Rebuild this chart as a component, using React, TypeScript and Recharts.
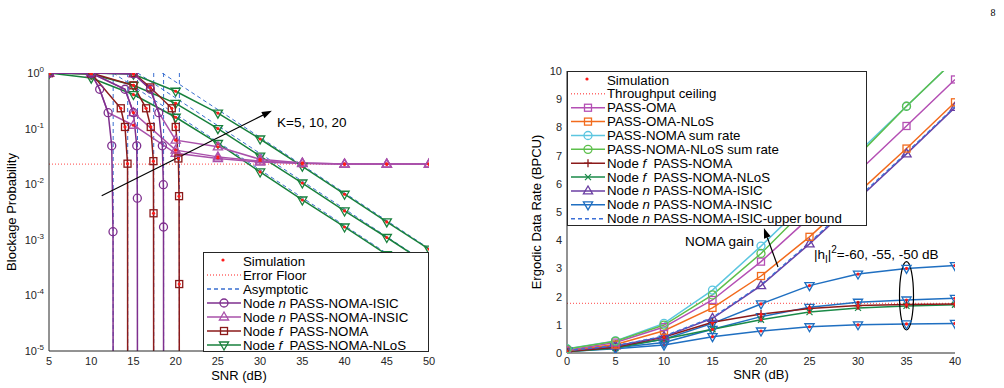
import React from 'react';
import { LineChart, Line, XAxis, YAxis, ReferenceLine, ReferenceDot, Legend } from 'recharts';

const FONT = '"Liberation Sans", Arial, Helvetica, sans-serif';
const INK = '#262626';

// ---------- left panel: blockage probability vs SNR ----------
const snrTicksL = [5, 10, 15, 20, 25, 30, 35, 40, 45, 50];
const probTicks = [1e-5, 1e-4, 1e-3, 1e-2, 1e-1, 1];
const probMinorTicks = probTicks.slice(0, -1).flatMap((d) => [2, 3, 4, 5, 6, 7, 8, 9].map((m) => m * d));

// [SNR (dB), probability, 0 = no marker]
type Pt = [number, number, number?];

const isicK5: Pt[] = [[5, 1], [10, 0.98], [11, 0.51], [12, 0.193], [12.43, 0.049], [12.58, 0.0014], [12.6, 1e-7]];
const isicK10: Pt[] = [[5, 1], [10, 1], [14, 0.51], [15, 0.193], [15.39, 0.049], [15.46, 0.0056], [15.48, 1e-7]];
const isicK20: Pt[] = [[5, 1], [10, 1], [15, 0.97], [17, 0.51], [18, 0.193], [18.42, 0.049], [18.54, 0.0098], [18.56, 0.0017], [18.57, 1e-7]];

const insicK5: Pt[] = [[5, 1], [10, 0.98], [11, 0.51, 0], [12, 0.193, 0], [15, 0.115], [20, 0.036], [25, 0.029], [30, 0.025], [35, 0.0235], [40, 0.023], [45, 0.023], [50, 0.023]];
const insicK10: Pt[] = [[5, 1], [10, 1], [14, 0.51, 0], [15, 0.193], [20, 0.041], [25, 0.031], [30, 0.026], [35, 0.024], [40, 0.023], [45, 0.023], [50, 0.023]];
const insicK20: Pt[] = [[5, 1], [10, 1], [15, 0.97], [17, 0.51, 0], [18, 0.193, 0], [20, 0.062], [25, 0.047], [30, 0.028], [35, 0.024], [40, 0.023], [45, 0.023], [50, 0.023]];

const nomaK5: Pt[] = [[5, 1], [10, 0.98], [13.5, 0.232], [14, 0.107], [14.3, 0.0234], [14.32, 1e-7]];
const nomaK10: Pt[] = [[5, 1], [10, 1], [15, 0.6], [16.5, 0.232], [17.05, 0.107], [17.36, 0.026], [17.38, 0.003], [17.4, 1e-7]];
const nomaK20: Pt[] = [[5, 1], [10, 1], [15, 1], [17, 0.55], [19.54, 0.232], [20.01, 0.107], [20.32, 0.029], [20.4, 0.0061], [20.42, 1.6e-4], [20.44, 1e-7]];

const nlosK5: Pt[] = [[5, 1], [10, 0.81], [15, 0.41], [20, 0.16], [25, 0.054], [30, 0.0166], [35, 0.0052], [40, 0.0017], [45, 5.4e-4], [50, 1.74e-4]];
const nlosK10: Pt[] = [[5, 1], [10, 0.95], [15, 0.6], [20, 0.285], [25, 0.1], [30, 0.032], [35, 0.0105], [40, 0.0033], [45, 0.0011], [50, 3.5e-4]];
const nlosK20: Pt[] = [[5, 1], [10, 1], [15, 0.95], [20, 0.47], [25, 0.19], [30, 0.065], [35, 0.021], [40, 0.0066], [45, 0.0021], [50, 6.8e-4]];

// high-SNR asymptotes (sloped) and the SNR where each SIC curve collapses
const asymK5: Pt[] = [[12.6, 1], [50, 1.8e-4]];
const asymK10: Pt[] = [[15.5, 1], [50, 3.6e-4]];
const asymK20: Pt[] = [[18.4, 1], [50, 7e-4]];
const dropSnr = [12.6, 14.32, 15.48, 17.4, 18.57, 20.44];

const errorFloor = 0.023;

// ---------- right panel: ergodic data rate vs SNR ----------
const snrR = [0, 5, 10, 15, 20, 25, 30, 35, 40];
const rateTicks = [0, 1, 2, 3, 4, 5, 6, 7, 8, 9, 10];
const omaRate = [0.1, 0.37, 0.92, 1.88, 3.24, 4.8, 6.42, 8.05, 9.7];
const omaNlosRate = [0.09, 0.3, 0.79, 1.6, 2.73, 4.12, 5.68, 7.25, 8.89];
const nomaSumRate = [0.15, 0.43, 1.05, 2.23, 3.79, 5.45, 7.1, 8.75, 10.4];
const nlosSumRate = [0.14, 0.42, 0.99, 2.06, 3.53, 5.25, 7.0, 8.75, 10.4];
const nodeFRate = [0.05, 0.2, 0.57, 1.09, 1.38, 1.58, 1.68, 1.72, 1.74];
const nodeFNlosRate = [0.04, 0.18, 0.5, 0.84, 1.18, 1.45, 1.6, 1.67, 1.71];
const isicRate = [0.08, 0.25, 0.58, 1.23, 2.39, 3.87, 5.45, 7.06, 8.71];
const isicUpperRate = [0.09, 0.26, 0.6, 1.26, 2.42, 3.92, 5.5, 7.1, 8.74];
const insic60Rate = [0.08, 0.22, 0.49, 1.05, 1.74, 2.39, 2.8, 3.0, 3.1];
const insic55Rate = [0.06, 0.19, 0.37, 0.84, 1.29, 1.62, 1.8, 1.88, 1.94];
const insic50Rate = [0.05, 0.15, 0.28, 0.58, 0.78, 0.93, 1.0, 1.03, 1.05];
const throughputCeiling = 1.76;

const rateRows = snrR.map((snr, i) => ({
  snr,
  oma: omaRate[i],
  omaNlos: omaNlosRate[i],
  nomaSum: nomaSumRate[i],
  nlosSum: nlosSumRate[i],
  nodeF: nodeFRate[i],
  nodeFNlos: nodeFNlosRate[i],
  isic: isicRate[i],
  isicUpper: isicUpperRate[i],
  insic60: insic60Rate[i],
  insic55: insic55Rate[i],
  insic50: insic50Rate[i],
}));

const C = {
  isic: '#7e2f8e',
  insic: '#a950aa',
  nomaF: '#8b1a1a',
  nlos: '#18803c',
  asym: '#3a6fd0',
  floor: '#ff6b6b',
  sim: '#ff1a1a',
  oma: '#b44fb4',
  omaNlos: '#f26b1d',
  nomaSum: '#5cc6e0',
  nlosSum: '#5dbf4b',
  nodeFNlos: '#1a8a48',
  isicR: '#6b3fa3',
  insicR: '#1f6fc1',
  upper: '#3b6fd6',
};

const toRows = (pts: Pt[]) => pts.map(([snr, p, m]) => ({ snr, p, mark: m !== 0 && p >= 1e-5 }));

type Shape = 'circle' | 'square' | 'tri' | 'dtri' | 'plus' | 'x';

function Mark({ shape, cx, cy, color, sim }: { shape: Shape; cx: number; cy: number; color: string; sim?: boolean }) {
  const sw = 1.3;
  let m: React.ReactNode = null;
  if (shape === 'circle') m = <circle cx={cx} cy={cy} r={4} fill="none" stroke={color} strokeWidth={sw} />;
  if (shape === 'square') m = <rect x={cx - 3.5} y={cy - 3.5} width={7} height={7} fill="none" stroke={color} strokeWidth={sw} />;
  if (shape === 'tri')
    m = <polygon points={`${cx},${cy - 5} ${cx - 4.6},${cy + 3} ${cx + 4.6},${cy + 3}`} fill="none" stroke={color} strokeWidth={sw} />;
  if (shape === 'dtri')
    m = <polygon points={`${cx},${cy + 5} ${cx - 4.6},${cy - 3} ${cx + 4.6},${cy - 3}`} fill="none" stroke={color} strokeWidth={sw} />;
  if (shape === 'plus')
    m = (
      <g stroke={color} strokeWidth={sw}>
        <line x1={cx - 4} x2={cx + 4} y1={cy} y2={cy} />
        <line x1={cx} x2={cx} y1={cy - 4} y2={cy + 4} />
      </g>
    );
  if (shape === 'x')
    m = (
      <g stroke={color} strokeWidth={sw}>
        <line x1={cx - 3} x2={cx + 3} y1={cy - 3} y2={cy + 3} />
        <line x1={cx - 3} x2={cx + 3} y1={cy + 3} y2={cy - 3} />
      </g>
    );
  return (
    <g>
      {m}
      {sim && <circle cx={cx} cy={cy} r={1.6} fill={C.sim} />}
    </g>
  );
}

const dotFn = (shape: Shape, color: string, sim = false) => (p: any) => {
  const { cx, cy, payload, index } = p;
  if (cx == null || cy == null || payload?.mark === false) return <g key={`d${index}`} />;
  return <Mark key={`d${index}`} shape={shape} cx={cx} cy={cy} color={color} sim={sim} />;
};

const PowTick = (props: any) => {
  const { x, y, payload } = props;
  const e = Math.round(Math.log10(payload.value));
  return (
    <text x={x} y={y + 4} textAnchor="end" fontSize={11} fontFamily={FONT} fill={INK}>
      10
      <tspan dy={-5} fontSize={8}>
        {e}
      </tspan>
    </text>
  );
};

const Arrow = (p: any) => {
  const { x1, y1, x2, y2 } = p;
  const a = Math.atan2(y2 - y1, x2 - x1);
  const L = 10;
  const W = 3.5;
  const bx = x2 - L * Math.cos(a);
  const by = y2 - L * Math.sin(a);
  const pts = `${x2},${y2} ${bx + W * Math.sin(a)},${by - W * Math.cos(a)} ${bx - W * Math.sin(a)},${by + W * Math.cos(a)}`;
  return (
    <g>
      <line x1={x1} y1={y1} x2={bx} y2={by} stroke="#000" strokeWidth={1.2} />
      <polygon points={pts} fill="#000" />
    </g>
  );
};

const Ellipse = (p: any) => {
  const { x1, y1, x2, y2 } = p;
  return <ellipse cx={(x1 + x2) / 2} cy={(y1 + y2) / 2} rx={7} ry={Math.abs(y2 - y1) / 2} fill="none" stroke="#000" strokeWidth={1.2} />;
};

const note = (content: React.ReactNode) => (p: any) => (
  <text x={p.cx} y={p.cy} dy={5} fontSize={13.5} fontFamily={FONT} fill="#000">
    {content}
  </text>
);

type LegendRow = { label: React.ReactNode; color?: string; dash?: string; line?: boolean; shape?: Shape; sim?: boolean };

function LegendBox({ rows, width, height, top0, step }: { rows: LegendRow[]; width: number; height: number; top0: number; step: number }) {
  return (
    <div style={{ width, height, background: '#fff', border: `1px solid ${INK}`, boxSizing: 'border-box' }}>
      <svg width={width - 2} height={height - 2} style={{ display: 'block' }}>
        {rows.map((r, i) => {
          const y = top0 + i * step;
          return (
            <g key={i}>
              {r.line && <line x1={3} x2={37} y1={y} y2={y} stroke={r.color} strokeWidth={1.5} strokeDasharray={r.dash} />}
              {r.shape && <Mark shape={r.shape} cx={20} cy={y} color={r.color as string} />}
              {r.sim && <circle cx={19} cy={y - 1} r={1.6} fill={C.sim} />}
              <text x={39} y={y + 4.5} fontSize={13.3} fontFamily={FONT} fill="#000" style={{ whiteSpace: 'pre' }}>
                {r.label}
              </text>
            </g>
          );
        })}
      </svg>
    </div>
  );
}

const it = (s: string) => <tspan fontStyle="italic">{s}</tspan>;

const leftLegend: LegendRow[] = [
  { label: 'Simulation', sim: true },
  { label: 'Error Floor', color: C.floor, dash: '1 2', line: true },
  { label: 'Asymptotic', color: C.asym, dash: '4 3', line: true },
  { label: <>Node {it('n')} PASS-NOMA-ISIC</>, color: C.isic, line: true, shape: 'circle' },
  { label: <>Node {it('n')} PASS-NOMA-INSIC</>, color: C.insic, line: true, shape: 'tri' },
  { label: <>Node {it('f')}  PASS-NOMA</>, color: C.nomaF, line: true, shape: 'square' },
  { label: <>Node {it('f')}  PASS-NOMA-NLoS</>, color: C.nlos, line: true, shape: 'dtri' },
];

const rightLegend: LegendRow[] = [
  { label: 'Simulation', sim: true },
  { label: 'Throughput ceiling', color: C.floor, dash: '1 2', line: true },
  { label: 'PASS-OMA', color: C.oma, line: true, shape: 'square' },
  { label: 'PASS-OMA-NLoS', color: C.omaNlos, line: true, shape: 'square' },
  { label: 'PASS-NOMA sum rate', color: C.nomaSum, line: true, shape: 'circle' },
  { label: 'PASS-NOMA-NLoS sum rate', color: C.nlosSum, line: true, shape: 'circle' },
  { label: <>Node {it('f')}  PASS-NOMA</>, color: C.nomaF, line: true, shape: 'plus' },
  { label: <>Node {it('f')}  PASS-NOMA-NLoS</>, color: C.nodeFNlos, line: true, shape: 'x' },
  { label: <>Node {it('n')} PASS-NOMA-ISIC</>, color: C.isicR, line: true, shape: 'tri' },
  { label: <>Node {it('n')} PASS-NOMA-INSIC</>, color: C.insicR, line: true, shape: 'dtri' },
  { label: <>Node {it('n')} PASS-NOMA-ISIC-upper bound</>, color: C.upper, dash: '4 3', line: true },
];

const leftSeries: { pts: Pt[]; color: string; shape: Shape; sim: boolean }[] = [
  { pts: nlosK5, color: C.nlos, shape: 'dtri', sim: true },
  { pts: nlosK10, color: C.nlos, shape: 'dtri', sim: true },
  { pts: nlosK20, color: C.nlos, shape: 'dtri', sim: true },
  { pts: insicK5, color: C.insic, shape: 'tri', sim: true },
  { pts: insicK10, color: C.insic, shape: 'tri', sim: true },
  { pts: insicK20, color: C.insic, shape: 'tri', sim: true },
  { pts: nomaK5, color: C.nomaF, shape: 'square', sim: true },
  { pts: nomaK10, color: C.nomaF, shape: 'square', sim: true },
  { pts: nomaK20, color: C.nomaF, shape: 'square', sim: true },
  { pts: isicK5, color: C.isic, shape: 'circle', sim: false },
  { pts: isicK10, color: C.isic, shape: 'circle', sim: false },
  { pts: isicK20, color: C.isic, shape: 'circle', sim: false },
];

const asymLines: Pt[][] = [asymK5, asymK10, asymK20, ...dropSnr.map((s): Pt[] => [[s, 1], [s, 1e-7]])];

const rightSeries: { key: string; color: string; shape: Shape; sim: boolean }[] = [
  { key: 'insic50', color: C.insicR, shape: 'dtri', sim: true },
  { key: 'insic55', color: C.insicR, shape: 'dtri', sim: true },
  { key: 'insic60', color: C.insicR, shape: 'dtri', sim: true },
  { key: 'nodeFNlos', color: C.nodeFNlos, shape: 'x', sim: true },
  { key: 'nodeF', color: C.nomaF, shape: 'plus', sim: true },
  { key: 'isic', color: C.isicR, shape: 'tri', sim: false },
  { key: 'omaNlos', color: C.omaNlos, shape: 'square', sim: false },
  { key: 'oma', color: C.oma, shape: 'square', sim: false },
  { key: 'nomaSum', color: C.nomaSum, shape: 'circle', sim: false },
  { key: 'nlosSum', color: C.nlosSum, shape: 'circle', sim: false },
];

const tickFont = { fontSize: 11, fill: INK, fontFamily: FONT };

function BlockageChart() {
  const logY = { type: 'number' as const, scale: 'log' as const, domain: [1e-5, 1], allowDataOverflow: true };
  const xNum = { type: 'number' as const, domain: [5, 50], allowDataOverflow: true };
  return (
    <LineChart width={440} height={388} margin={{ top: 73, right: 11, bottom: 7, left: 9 }}>
      {/* inward tick marks on all four sides */}
      <XAxis xAxisId="top" orientation="top" mirror height={0} {...xNum} ticks={snrTicksL} tick={false} tickSize={5} stroke={INK} />
      <XAxis xAxisId="bt" orientation="bottom" mirror height={0} {...xNum} ticks={snrTicksL} tick={false} tickSize={5} axisLine={false} stroke={INK} />
      <YAxis yAxisId="lt" orientation="left" mirror width={0} {...logY} ticks={probTicks} tick={false} tickSize={5} axisLine={false} stroke={INK} />
      <YAxis yAxisId="lm" orientation="left" mirror width={0} {...logY} ticks={probMinorTicks} tick={false} tickSize={3} axisLine={false} stroke={INK} />
      <YAxis yAxisId="rt" orientation="right" mirror width={0} {...logY} ticks={probTicks} tick={false} tickSize={5} stroke={INK} />
      <YAxis yAxisId="rm" orientation="right" mirror width={0} {...logY} ticks={probMinorTicks} tick={false} tickSize={3} axisLine={false} stroke={INK} />
      <XAxis dataKey="snr" {...xNum} ticks={snrTicksL} interval={0} height={30} tickLine={false} tickSize={0} tickMargin={6} tick={tickFont} stroke={INK} />
      <YAxis {...logY} ticks={probTicks} interval={0} width={40} tickLine={false} tickSize={0} tickMargin={5} tick={<PowTick />} stroke={INK} />

      <ReferenceLine y={errorFloor} stroke={C.floor} strokeDasharray="1 2" strokeWidth={1.3} />
      {asymLines.map((pts, i) => (
        <Line key={`a${i}`} data={toRows(pts)} dataKey="p" stroke={C.asym} strokeWidth={1} strokeDasharray="4 3" dot={false} activeDot={false} isAnimationActive={false} />
      ))}
      {leftSeries.map((s, i) => (
        <Line key={`s${i}`} data={toRows(s.pts)} dataKey="p" stroke={s.color} strokeWidth={1.5} dot={dotFn(s.shape, s.color, s.sim)} activeDot={false} isAnimationActive={false} />
      ))}

      <ReferenceLine segment={[{ x: 11.24, y: 0.0062 }, { x: 31.39, y: 0.21 }]} shape={Arrow} />
      <ReferenceDot x={32} y={0.13} r={0} shape={note('K=5, 10, 20')} />

      <Legend
        layout="vertical"
        align="center"
        verticalAlign="middle"
        wrapperStyle={{ left: 203, top: 252, width: 226 }}
        content={() => <LegendBox rows={leftLegend} width={226} height={100} top0={8} step={14} />}
      />
    </LineChart>
  );
}

function RateChart() {
  const linY = { type: 'number' as const, domain: [0, 10], allowDataOverflow: true };
  const xNum = { type: 'number' as const, domain: [0, 40], allowDataOverflow: true };
  return (
    <LineChart width={504} height={388} data={rateRows} margin={{ top: 71, right: 49, bottom: 5, left: 37 }}>
      <XAxis xAxisId="top" orientation="top" mirror height={0} {...xNum} ticks={snrR} tick={false} tickSize={5} stroke={INK} />
      <XAxis xAxisId="bt" orientation="bottom" mirror height={0} {...xNum} ticks={snrR} tick={false} tickSize={5} axisLine={false} stroke={INK} />
      <YAxis yAxisId="lt" orientation="left" mirror width={0} {...linY} ticks={rateTicks} tick={false} tickSize={5} axisLine={false} stroke={INK} />
      <YAxis yAxisId="rt" orientation="right" mirror width={0} {...linY} ticks={rateTicks} tick={false} tickSize={5} stroke={INK} />
      <XAxis dataKey="snr" {...xNum} ticks={snrR} interval={0} height={30} tickLine={false} tickSize={0} tickMargin={4} tick={tickFont} stroke={INK} />
      <YAxis {...linY} ticks={rateTicks} interval={0} width={30} tickLine={false} tickSize={0} tickMargin={5} tick={tickFont} stroke={INK} />

      <ReferenceLine y={throughputCeiling} stroke={C.floor} strokeDasharray="1 2" strokeWidth={1.3} />
      {rightSeries.map((s) => (
        <Line key={s.key} dataKey={s.key} stroke={s.color} strokeWidth={1.5} dot={dotFn(s.shape, s.color, s.sim)} activeDot={false} isAnimationActive={false} />
      ))}
      <Line dataKey="isicUpper" stroke={C.upper} strokeWidth={1.3} strokeDasharray="4 3" dot={false} activeDot={false} isAnimationActive={false} />

      <ReferenceLine segment={[{ x: 21.75, y: 3.05 }, { x: 20.3, y: 4.43 }]} shape={Arrow} />
      <ReferenceDot x={12.16} y={3.97} r={0} shape={note('NOMA gain')} />
      <ReferenceLine segment={[{ x: 35, y: 3.24 }, { x: 35, y: 0.82 }]} shape={Ellipse} />
      <ReferenceDot
        x={25.46}
        y={3.51}
        r={0}
        shape={note(
          <>
            |h
            <tspan dy={4} fontSize={10}>
              I
            </tspan>
            <tspan dy={-4}>|</tspan>
            <tspan dy={-6} fontSize={10}>
              2
            </tspan>
            <tspan dy={6}>=-60, -55, -50 dB</tspan>
          </>
        )}
      />

      <Legend
        layout="vertical"
        align="center"
        verticalAlign="middle"
        wrapperStyle={{ left: 67, top: 71, width: 300 }}
        content={() => <LegendBox rows={rightLegend} width={300} height={155} top0={8} step={13.87} />}
      />
    </LineChart>
  );
}

export default function App() {
  const title = { fontSize: 13, fontFamily: FONT, fill: '#000', textAnchor: 'middle' as const };
  return (
    <div style={{ position: 'absolute', left: 0, top: 0, width: 1004, height: 388, background: '#fff', overflow: 'hidden' }}>
      <div style={{ position: 'absolute', left: 0, top: 0 }}>
        <BlockageChart />
      </div>
      <div style={{ position: 'absolute', left: 500, top: 0 }}>
        <RateChart />
      </div>
      <svg width={1004} height={388} style={{ position: 'absolute', left: 0, top: 0, pointerEvents: 'none' }}>
        <text x={993} y={16} fontSize={10} fontFamily="'Liberation Serif', serif" fill="#000" textAnchor="middle">
          8
        </text>
        <text {...title} transform="translate(16,212) rotate(-90)">
          Blockage Probability
        </text>
        <text {...title} x={239} y={380}>
          SNR (dB)
        </text>
        <text {...title} transform="translate(541,212) rotate(-90)">
          Ergodic Data Rate (BPCU)
        </text>
        <text {...title} x={761} y={379}>
          SNR (dB)
        </text>
      </svg>
    </div>
  );
}
